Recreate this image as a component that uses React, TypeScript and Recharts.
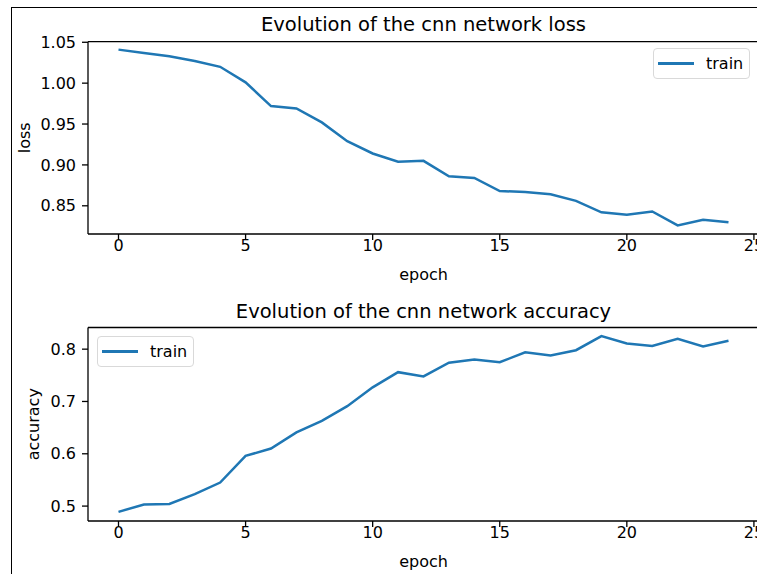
import React from 'react';
import { LineChart, Line, XAxis, YAxis, Legend, ReferenceLine } from 'recharts';

const epochs = [0, 1, 2, 3, 4, 5, 6, 7, 8, 9, 10, 11, 12, 13, 14, 15, 16, 17, 18, 19, 20, 21, 22, 23, 24];
const lossTrain = [1.041, 1.037, 1.033, 1.027, 1.02, 1.001, 0.972, 0.969, 0.952, 0.929, 0.914, 0.904, 0.905, 0.886, 0.884, 0.868, 0.867, 0.864, 0.856, 0.842, 0.839, 0.843, 0.826, 0.833, 0.83];
const accTrain = [0.489, 0.503, 0.504, 0.523, 0.545, 0.596, 0.61, 0.641, 0.663, 0.691, 0.727, 0.756, 0.748, 0.774, 0.78, 0.775, 0.794, 0.788, 0.798, 0.825, 0.811, 0.806, 0.82, 0.805, 0.816];
const xTicks = [0, 5, 10, 15, 20, 25];
const lossTicks = [0.85, 0.9, 0.95, 1.0, 1.05];
const accTicks = [0.5, 0.6, 0.7, 0.8];
const lossDomain = [0.8155, 1.0507];
const accDomain = [0.4715, 0.8414];

const lossData = epochs.map((e, i) => ({ epoch: e, train: lossTrain[i] }));
const accData = epochs.map((e, i) => ({ epoch: e, train: accTrain[i] }));

const BLUE = '#1f77b4';
const tickStyle = { fill: '#000', fontSize: 16 };

const LegendBox = ({ payload }: any) => {
    const item = payload && payload[0];
    return (
        <div style={{ width: 95, height: 29, border: '1px solid #d9d9d9', borderRadius: 4, background: 'rgba(255,255,255,0.8)', display: 'flex', alignItems: 'center', fontSize: 16, color: '#000' }}>
            <div style={{ marginLeft: 4, width: 36, height: 2.5, background: item ? item.color : BLUE }}></div>
            <span style={{ marginLeft: 12 }}>{item ? item.value : 'train'}</span>
        </div>
    );
};

const App = () => {
    return (
        <div style={{ position: 'absolute', left: 0, top: 0, width: 757, height: 574, overflow: 'hidden', background: '#fff', fontFamily: '"DejaVu Sans", sans-serif' }}>
            <div style={{ position: 'absolute', left: 11, top: 7, width: 900, height: 700, borderLeft: '1.5px solid #000', borderTop: '1.5px solid #000' }}></div>

            {/* loss */}
            <div style={{ position: 'absolute', left: 0, top: 0 }}>
                <LineChart width={800} height={295} data={lossData} margin={{ top: 41.7, right: 41, bottom: 14, left: 0 }}>
                    <XAxis dataKey="epoch" type="number" domain={[-1.2, 25.2]} allowDataOverflow ticks={xTicks} height={47}
                        tick={tickStyle} tickSize={6} tickMargin={0} stroke="#000" strokeWidth={1.3}
                        label={{ value: 'epoch', position: 'insideBottom', offset: 1, fill: '#000', fontSize: 16 }} />
                    <YAxis type="number" domain={lossDomain} allowDataOverflow ticks={lossTicks} width={88}
                        tick={tickStyle} tickSize={6} tickMargin={6} stroke="#000" strokeWidth={1.3}
                        tickFormatter={(v: number) => v.toFixed(2)}
                        label={{ value: 'loss', angle: -90, position: 'insideLeft', offset: 24.3, fill: '#000', fontSize: 16, style: { textAnchor: 'middle' } }} />
                    <ReferenceLine y={lossDomain[1]} ifOverflow="visible" stroke="#000" strokeWidth={1.3}
                        label={{ value: 'Evolution of the cnn network loss', position: 'top', offset: 10.4, fill: '#000', fontSize: 19.5 }} />
                    <Legend layout="vertical" align="center" verticalAlign="middle" content={<LegendBox />}
                        wrapperStyle={{ left: 653, top: 48, right: 'auto', bottom: 'auto', width: 97, height: 31 }} />
                    <Line type="linear" dataKey="train" name="train" stroke={BLUE} strokeWidth={2.5} dot={false} isAnimationActive={false} />
                </LineChart>
            </div>

            {/* accuracy */}
            <div style={{ position: 'absolute', left: 0, top: 290 }}>
                <LineChart width={800} height={295} data={accData} margin={{ top: 37.5, right: 41, bottom: 17, left: 0 }}>
                    <XAxis dataKey="epoch" type="number" domain={[-1.2, 25.2]} allowDataOverflow ticks={xTicks} height={47}
                        tick={tickStyle} tickSize={6} tickMargin={0} stroke="#000" strokeWidth={1.3}
                        label={{ value: 'epoch', position: 'insideBottom', offset: 1, fill: '#000', fontSize: 16 }} />
                    <YAxis type="number" domain={accDomain} allowDataOverflow ticks={accTicks} width={88}
                        tick={tickStyle} tickSize={6} tickMargin={6} stroke="#000" strokeWidth={1.3}
                        tickFormatter={(v: number) => v.toFixed(1)}
                        label={{ value: 'accuracy', angle: -90, position: 'insideLeft', offset: 33.2, fill: '#000', fontSize: 16, style: { textAnchor: 'middle' } }} />
                    <ReferenceLine y={accDomain[1]} ifOverflow="visible" stroke="#000" strokeWidth={1.3}
                        label={{ value: 'Evolution of the cnn network accuracy', position: 'top', offset: 9.5, fill: '#000', fontSize: 19.5 }} />
                    <Legend layout="vertical" align="center" verticalAlign="middle" content={<LegendBox />}
                        wrapperStyle={{ left: 97, top: 46, right: 'auto', bottom: 'auto', width: 97, height: 31 }} />
                    <Line type="linear" dataKey="train" name="train" stroke={BLUE} strokeWidth={2.5} dot={false} isAnimationActive={false} />
                </LineChart>
            </div>
        </div>
    );
};

export default App;
